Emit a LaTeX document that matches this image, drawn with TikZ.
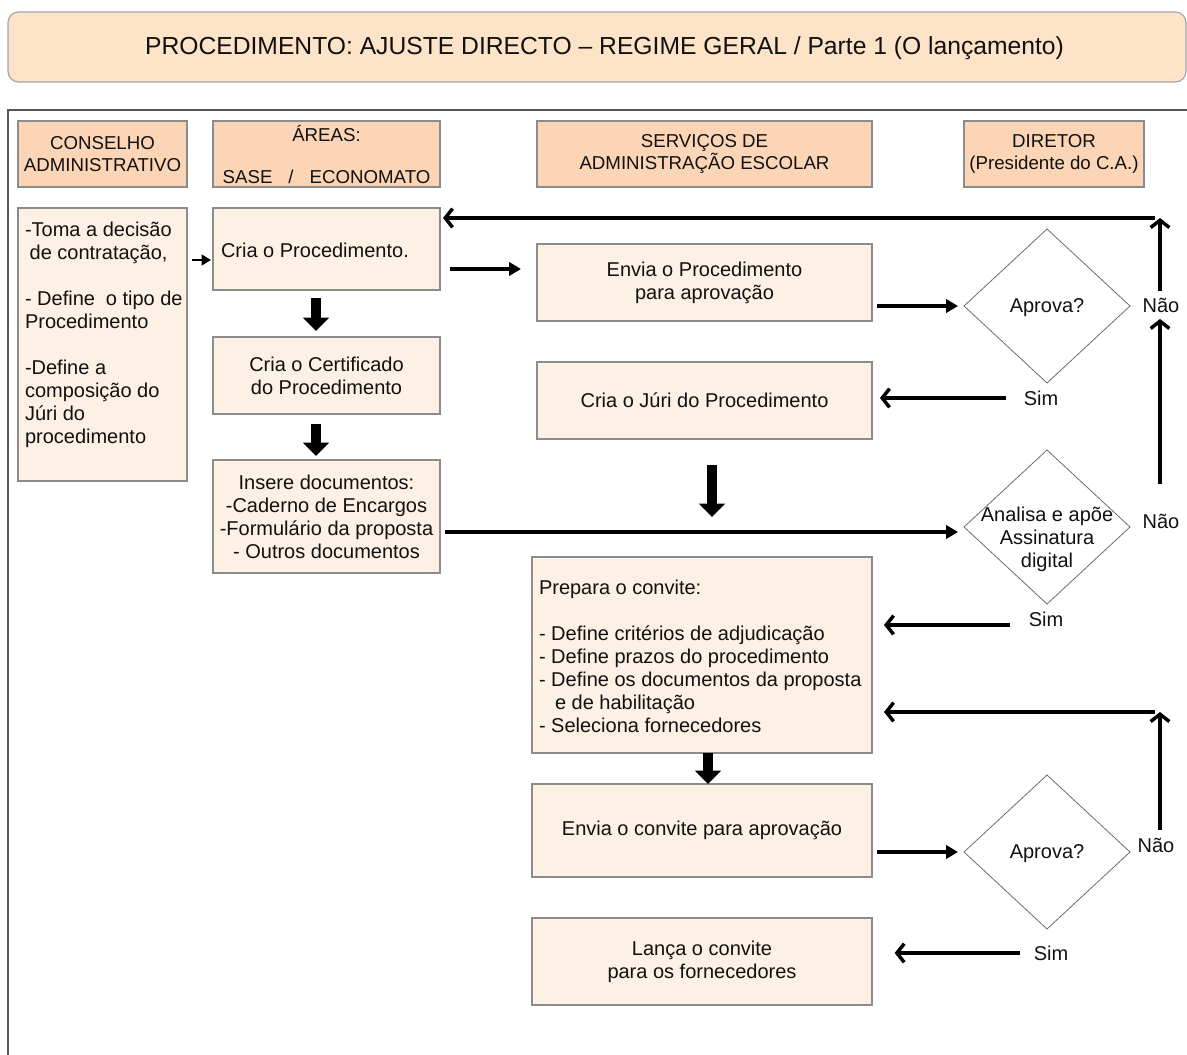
\documentclass[tikz,border=0pt]{standalone}
\usepackage{fontspec}
\setmainfont{Liberation Sans}
\usetikzlibrary{arrows.meta,shapes.geometric}
\definecolor{titlefill}{HTML}{FDE3C8}
\definecolor{headfill}{HTML}{FBD5B5}
\definecolor{bodyfill}{HTML}{FDF0E4}
\definecolor{boxline}{HTML}{8C8C8C}
\definecolor{frameline}{HTML}{555555}
\definecolor{ink}{HTML}{111111}
\begin{document}
\begin{tikzpicture}[x=0.75pt,y=-0.75pt,
  every node/.style={text=ink, inner sep=0pt, outer sep=0pt},
  bodyfont/.style={font=\fontsize{15}{17.25}\selectfont},
  headfont/.style={font=\fontsize{14}{16.5}\selectfont},
  sz/.style 2 args={minimum width=#1*0.75pt, minimum height=#2*0.75pt},
  headbox/.style={draw=boxline, fill=headfill, line width=0.9pt, align=center, headfont},
  stepbox/.style={draw=boxline, fill=bodyfill, line width=0.9pt, align=center, bodyfont},
  dia/.style={diamond, draw=gray!85!black, line width=0.6pt, fill=white, bodyfont, align=center},
  lbl/.style={bodyfont},
  small/.style={line width=2.2pt, -{Triangle[length=7pt,width=8pt]}},
  tri/.style={line width=2.6pt, -{Triangle[length=9pt,width=10pt]}},
  chev/.style={line width=2.6pt, -{Straight Barb[length=5.5pt,width=14pt]}},
  blk/.style={line width=7pt, -{Triangle[length=10pt,width=19pt]}},
]
\useasboundingbox (0,0) rectangle (1187,1055);

% title banner
\node[draw=gray!70, fill=titlefill, line width=0.9pt, rounded corners=8pt, sz={1178}{70}] (title) at (597,47) {};
\node[font=\fontsize{18.5}{22}\selectfont] (title-t) at (604.5,48) {PROCEDIMENTO: AJUSTE DIRECTO -- REGIME GERAL / Parte 1 (O lançamento)};

% open frame around the lanes
\draw[frameline, line width=1.2pt] (8,1060) -- (8,110) -- (1192,110);

% lane headers
\node[headbox, sz={169}{66}] (h1) at (102.5,154) {CONSELHO\\ADMINISTRATIVO};
\node[headbox, sz={227}{66}] (h2) at (326.5,154) {ÁREAS:\\[15pt]SASE\hspace{12pt}/\hspace{12pt}ECONOMATO};
\node[headbox, sz={335}{66}] (h3) at (704.5,154) {SERVIÇOS DE\\ADMINISTRAÇÃO ESCOLAR};
\node[headbox, sz={180}{66}] (h4) at (1054,154) {DIRETOR\\(Presidente do C.A.)};

% Conselho Administrativo
\node[stepbox, sz={169}{273}] (cons) at (102.5,344.5) {};
\node[bodyfont, align=left, anchor=north west] (cons-t) at (25,222) {-Toma a decisão\\\hspace*{3.5pt}de contratação,\\[17.25pt]- Define\hspace{4pt} o tipo de\\Procedimento\\[17.25pt]-Define a\\composição do\\Júri do\\procedimento};

% Areas
\node[stepbox, sz={227}{82}] (cria) at (326.5,249) {};
\node[bodyfont, anchor=west] (cria-t) at (221,250) {Cria o Procedimento.};
\node[stepbox, sz={227}{77}] (cert) at (326.5,375.5) {Cria o Certificado\\do Procedimento};
\node[stepbox, sz={227}{113}] (ins) at (326.5,516.5) {Insere documentos:\\-Caderno de Encargos\\-Formulário da proposta\\- Outros documentos};

% Servicos de Administracao Escolar
\node[stepbox, sz={335}{77}] (env) at (704.5,282.5) {Envia o Procedimento\\para aprovação};
\node[stepbox, sz={335}{77}] (juri) at (704.5,400.5) {Cria o Júri do Procedimento};
\node[stepbox, sz={340}{196}] (prep) at (702,655) {};
\node[bodyfont, align=left, anchor=west] (prep-t) at (539,656) {Prepara o convite:\\[17.25pt]- Define critérios de adjudicação\\- Define prazos do procedimento\\- Define os documentos da proposta\\\hspace*{12pt}e de habilitação\\- Seleciona fornecedores};
\node[stepbox, sz={340}{93}] (envc) at (702,830.5) {Envia o convite para aprovação};
\node[stepbox, sz={340}{87}] (lanca) at (702,961.5) {Lança o convite\\para os fornecedores};

% Diretor decisions
\node[dia, sz={166}{154}] (ap1) at (1047,306) {};
\node[bodyfont] (ap1-t) at (1047,308) {Aprova?};
\node[dia, sz={166}{154}] (ana) at (1047,527) {};
\node[bodyfont, align=center] (ana-t) at (1047,539) {Analisa e apõe\\Assinatura\\digital};
\node[dia, sz={166}{154}] (ap2) at (1047,852) {};
\node[bodyfont] (ap2-t) at (1047,854) {Aprova?};

% decision outcomes
\node[lbl] (nao1) at (1161,305) {Não};
\node[lbl] (sim1) at (1041,398) {Sim};
\node[lbl] (nao2) at (1161,521) {Não};
\node[lbl] (sim2) at (1046,619) {Sim};
\node[lbl] (nao3) at (1156,845) {Não};
\node[lbl] (sim3) at (1051,953) {Sim};

\coordinate (loop1) at (1160,218);
\coordinate (loop2) at (1160,712);

% flow
\draw[small, shorten <=3.75pt, shorten >=1.5pt] (cons.east |- 0,260) -- (cria.west |- 0,260);
\draw[tri, shorten <=7.5pt, shorten >=12pt] (cria.east |- 0,269) -- (env.west |- 0,269);
\draw[tri, shorten <=3.75pt, shorten >=4.5pt] (env.east |- ap1.west) -- (ap1.west);
\draw[chev, shorten <=13pt, shorten >=6pt] (sim1.west) -- (juri.east |- sim1.west);
\draw[chev, shorten <=5pt] (nao1.north -| loop1) -- (loop1);
\draw[chev, shorten <=3.75pt, shorten >=2.25pt] (loop1) -- (cria.east |- loop1);
\draw[chev, shorten <=22pt, shorten >=5pt] (nao2.north -| loop1) -- (nao1.south -| loop1);
\draw[tri, shorten <=3.75pt, shorten >=4.5pt] (ins.east |- 0,532) -- (ana.west |- 0,532);

\draw[blk, shorten <=6pt, shorten >=4.5pt] (cria.south -| 316,0) -- (cert.north -| 316,0);
\draw[blk, shorten <=7.5pt, shorten >=3pt] (cert.south -| 316,0) -- (ins.north -| 316,0);
\draw[blk, shorten <=19.5pt, shorten >=30pt] (juri.south -| 712,0) -- (prep.north -| 712,0);
\draw[blk] (prep.south -| 708,0) -- (envc.north -| 708,0);

\draw[chev, shorten <=14pt, shorten >=9pt] (sim2.west |- 0,625) -- (prep.east |- 0,625);
\draw[chev, shorten <=6pt] (nao3.north -| loop2) -- (loop2);
\draw[chev, shorten <=3.75pt, shorten >=9pt] (loop2) -- (prep.east |- loop2);
\draw[tri, shorten <=3.75pt, shorten >=4.5pt] (envc.east |- ap2.west) -- (ap2.west);
\draw[chev, shorten <=10.5pt, shorten >=17pt] (sim3.west) -- (lanca.east |- sim3.west);
\end{tikzpicture}
\end{document}
